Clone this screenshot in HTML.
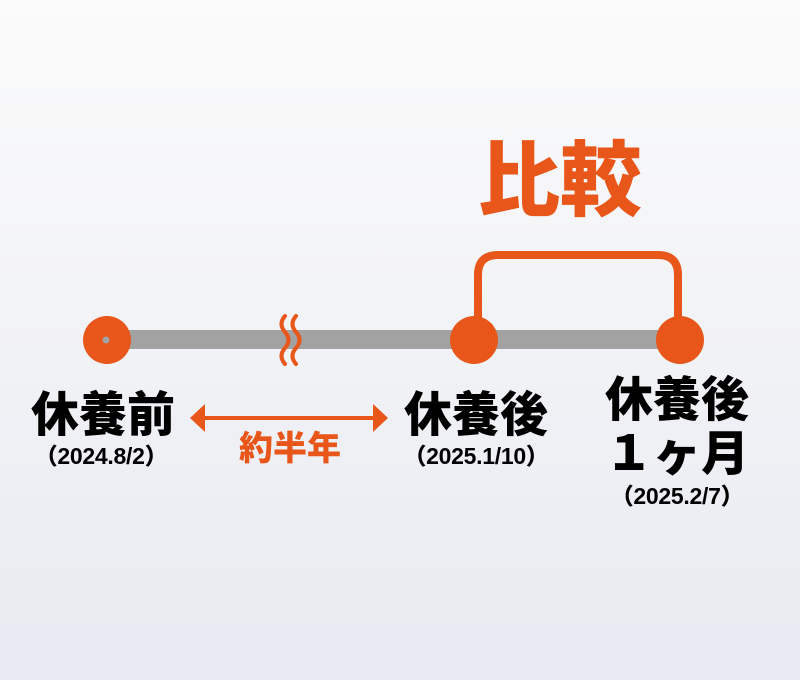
<!DOCTYPE html>
<html><head><meta charset="utf-8"><style>
body{margin:0;width:800px;height:680px;overflow:hidden;background:linear-gradient(#fbfbfb,#e8eaf1);font-family:"Liberation Sans","Noto Sans CJK JP",sans-serif;}
.t{position:absolute;font-weight:900;text-align:center;white-space:nowrap;transform:translateX(-50%);}
.d{font-size:23px;line-height:26px;letter-spacing:-0.3px;}
</style></head><body>
<svg width="800" height="680" style="position:absolute;left:0;top:0">
<rect x="108" y="330" width="572" height="19" fill="#a2a2a2"/>
<path d="M478 320 V275 Q478 255 498 255 H658 Q678 255 678 275 V320" fill="none" stroke="#e8561a" stroke-width="8"/>
<circle cx="107" cy="340" r="24" fill="#e8561a"/>
<circle cx="106" cy="340" r="3.5" fill="#a2a2a2"/>
<circle cx="474" cy="340" r="24" fill="#e8561a"/>
<circle cx="680" cy="340" r="24" fill="#e8561a"/>
<path d="M285 316 q-7 8 0 16 q7 8 0 16 q-7 8 0 16 M296 316 q-7 8 0 16 q7 8 0 16 q-7 8 0 16" fill="none" stroke="#e8561a" stroke-width="4" stroke-linecap="round"/>
<line x1="200" y1="418" x2="378" y2="418" stroke="#e8561a" stroke-width="4"/>
<polygon points="190,418 205,404 205,432" fill="#e8561a"/>
<polygon points="388,418 373,404 373,432" fill="#e8561a"/>
</svg>
<div class="t" style="left:560px;top:134px;font-size:82px;line-height:96px;color:#e8561a">比較</div>
<div class="t" style="left:103px;top:388px;font-size:48px;line-height:56px">休養前</div>
<div class="t d" style="left:101px;top:443px">（2024.8/2）</div>
<div class="t" style="left:290px;top:428px;font-size:34px;line-height:42px;color:#e8561a">約半年</div>
<div class="t" style="left:476px;top:388px;font-size:48px;line-height:56px">休養後</div>
<div class="t d" style="left:476px;top:443px">（2025.1/10）</div>
<div class="t" style="left:677px;top:373px;font-size:48px;line-height:56px">休養後</div>
<div class="t" style="left:677px;top:427px;font-size:48px;line-height:56px">１ヶ月</div>
<div class="t d" style="left:677px;top:483px">（2025.2/7）</div>
</body></html>
